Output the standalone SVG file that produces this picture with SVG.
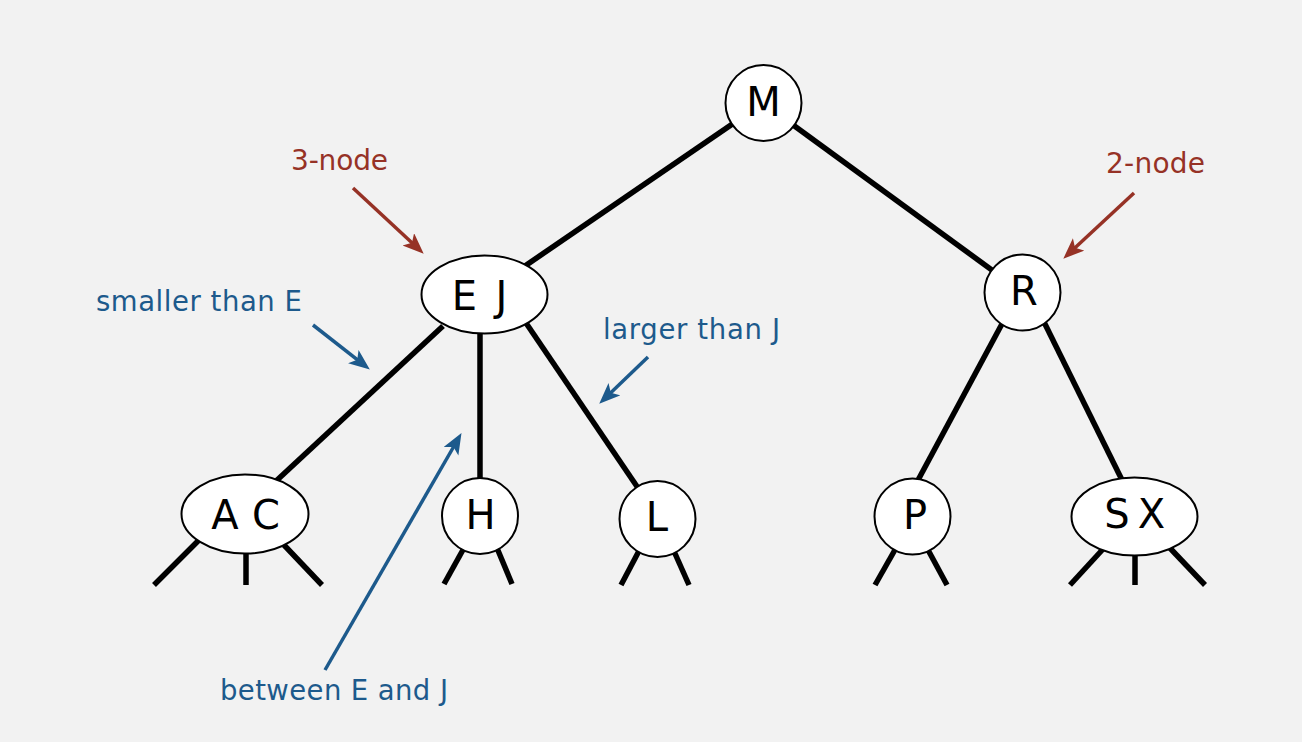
<svg xmlns="http://www.w3.org/2000/svg" width="1302" height="742" viewBox="0 0 1302 742">
<style>
.edge{stroke:#000;stroke-width:5.5;fill:none;stroke-linecap:butt}
.node{fill:#fff;stroke:#000;stroke-width:2}
.key{font-family:"DejaVu Sans","Liberation Sans",sans-serif;font-size:40px;fill:#000;text-anchor:middle}
.red{font-family:"DejaVu Sans","Liberation Sans",sans-serif;font-size:28px;fill:#963226}
.blue{font-family:"DejaVu Sans","Liberation Sans",sans-serif;font-size:27.5px;fill:#1d5a8c}
.ared{stroke:#963226;stroke-width:3.5;fill:none}
.ablue{stroke:#1d5a8c;stroke-width:3.5;fill:none}
</style>
<defs>
<marker id="hr" markerUnits="userSpaceOnUse" markerWidth="24" markerHeight="20" refX="9" refY="8.5" orient="auto"><path d="M0,0 L21,8.5 L0,17 L5,8.5 z" fill="#963226"/></marker>
<marker id="hb" markerUnits="userSpaceOnUse" markerWidth="24" markerHeight="20" refX="9" refY="8.5" orient="auto"><path d="M0,0 L21,8.5 L0,17 L5,8.5 z" fill="#1d5a8c"/></marker>
</defs>
<rect width="1302" height="742" fill="#f2f2f2"/>
<g id="connectors">
<line class="edge" x1="763" y1="103" x2="484" y2="294"/>
<line class="edge" x1="763" y1="103" x2="1022" y2="292"/>
<line class="edge" x1="443" y1="326" x2="275" y2="482"/>
<line class="edge" x1="480" y1="330" x2="480" y2="480"/>
<line class="edge" x1="524" y1="320" x2="638" y2="488"/>
<line class="edge" x1="1003" y1="322" x2="917" y2="482"/>
<line class="edge" x1="1044" y1="322" x2="1122" y2="480"/>
<line class="edge" x1="199" y1="540" x2="154" y2="585"/>
<line class="edge" x1="246" y1="550" x2="246" y2="585"/>
<line class="edge" x1="284" y1="545" x2="322" y2="585"/>
<line class="edge" x1="464" y1="548" x2="444" y2="584"/>
<line class="edge" x1="497" y1="548" x2="512" y2="584"/>
<line class="edge" x1="640" y1="549" x2="621" y2="585"/>
<line class="edge" x1="673" y1="549" x2="689" y2="585"/>
<line class="edge" x1="896" y1="548" x2="875" y2="585"/>
<line class="edge" x1="927" y1="548" x2="947" y2="585"/>
<line class="edge" x1="1104" y1="548" x2="1070" y2="585"/>
<line class="edge" x1="1135" y1="552" x2="1135" y2="585"/>
<line class="edge" x1="1168" y1="546" x2="1205" y2="585"/>
</g>
<g id="node-M"><circle class="node" cx="763.5" cy="103" r="38"/><text class="key" x="763.5" y="116">M</text></g>
<g id="node-EJ"><ellipse class="node" cx="484.5" cy="294.5" rx="63" ry="39"/><text class="key" x="464.5" y="310">E</text><text class="key" x="501.5" y="310">J</text></g>
<g id="node-R"><circle class="node" cx="1022.5" cy="292.5" r="38"/><text class="key" x="1024" y="305">R</text></g>
<g id="node-AC"><ellipse class="node" cx="245" cy="514" rx="63.5" ry="39.5"/><text class="key" x="225" y="529">A</text><text class="key" x="266" y="529">C</text></g>
<g id="node-H"><circle class="node" cx="480" cy="516" r="38"/><text class="key" x="480.5" y="529">H</text></g>
<g id="node-L"><circle class="node" cx="657.5" cy="519" r="38"/><text class="key" x="657" y="531">L</text></g>
<g id="node-P"><circle class="node" cx="912.5" cy="516.5" r="38"/><text class="key" x="915" y="529">P</text></g>
<g id="node-SX"><ellipse class="node" cx="1134.5" cy="516.5" rx="63" ry="39"/><text class="key" x="1117" y="528">S</text><text class="key" x="1151.5" y="528">X</text></g>
<g id="annotations">
<text class="red" x="291" y="170" textLength="97">3-node</text>
<line class="ared" x1="353" y1="188" x2="414.9" y2="245.5" marker-end="url(#hr)"/>
<text class="red" x="1106" y="173" textLength="99">2-node</text>
<line class="ared" x1="1134" y1="193" x2="1072.1" y2="250.5" marker-end="url(#hr)"/>
<text class="blue" x="96" y="311" textLength="206">smaller than E</text>
<line class="ablue" x1="313" y1="325" x2="360.4" y2="362.2" marker-end="url(#hb)"/>
<text class="blue" x="603" y="339" textLength="177">larger than J</text>
<line class="ablue" x1="648" y1="357" x2="607.9" y2="395.4" marker-end="url(#hb)"/>
<text class="blue" x="220" y="700" textLength="228">between E and J</text>
<line class="ablue" x1="325" y1="670" x2="455.5" y2="443.5" marker-end="url(#hb)"/>
</g>
</svg>
